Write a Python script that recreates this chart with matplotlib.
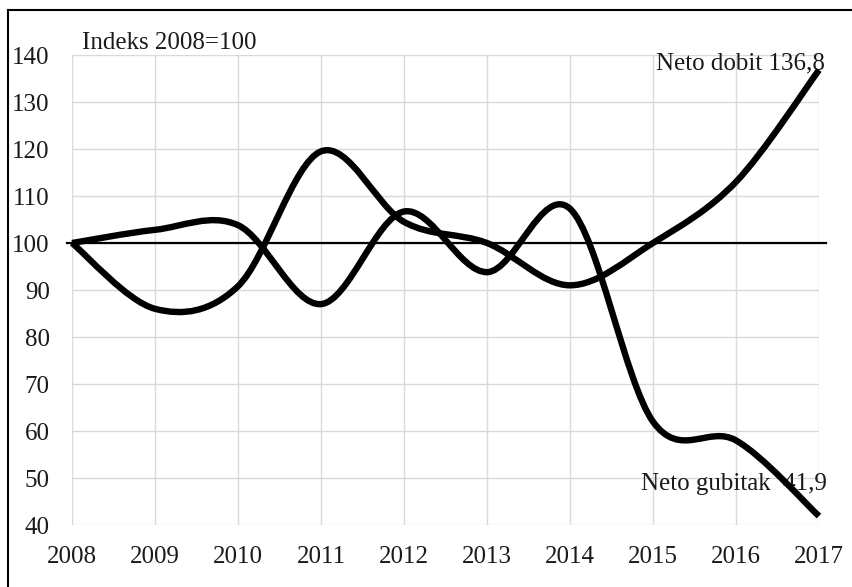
import matplotlib
matplotlib.use("Agg")
import matplotlib.pyplot as plt
import numpy as np
from matplotlib.path import Path
from matplotlib.patches import PathPatch
from matplotlib.lines import Line2D

plt.rcParams['font.family'] = ['Liberation Serif', 'DejaVu Serif']

years = [2008, 2009, 2010, 2011, 2012, 2013, 2014, 2015, 2016, 2017]
neto_dobit = [100, 86.0, 90.8, 119.5, 104.5, 100.0, 91.0, 100.0, 113.0, 136.8]
neto_gubitak = [100, 102.8, 103.8, 87.0, 106.7, 93.8, 107.3, 62.0, 58.0, 41.9]
yticks = [40, 50, 60, 70, 80, 90, 100, 110, 120, 130, 140]


def smooth_path(x, y):
    # excel-like smoothed line: catmull-rom as cubic bezier segments
    x = np.asarray(x, float)
    y = np.asarray(y, float)
    px = np.concatenate([[x[0]], x, [x[-1]]])
    py = np.concatenate([[y[0]], y, [y[-1]]])
    verts = [(x[0], y[0])]
    codes = [Path.MOVETO]
    for i in range(1, len(px) - 2):
        c1 = (px[i] + (px[i + 1] - px[i - 1]) / 6, py[i] + (py[i + 1] - py[i - 1]) / 6)
        c2 = (px[i + 1] - (px[i + 2] - px[i]) / 6, py[i + 1] - (py[i + 2] - py[i]) / 6)
        verts += [c1, c2, (px[i + 1], py[i + 1])]
        codes += [Path.CURVE4] * 3
    return Path(verts, codes)


fig = plt.figure(figsize=(8.53, 5.87), dpi=100)
ax = fig.add_axes([0.0844, 0.1056, 0.8757, 0.8007])

ax.set_xlim(2008, 2017)
ax.set_ylim(40, 140)
ax.set_xticks(years)
ax.set_yticks(yticks)
ax.grid(True, color='#d9d9d9', lw=1.0)
ax.set_axisbelow(True)
for s in ax.spines.values():
    s.set_visible(False)
ax.tick_params(length=0, labelsize=18, colors='#1a1a1a')
ax.tick_params(axis='y', pad=16)
ax.tick_params(axis='x', pad=15)

ax.plot([2007.94, 2017.08], [100, 100], color='black', lw=1.6, clip_on=False, zorder=3)

for series in [neto_dobit, neto_gubitak]:
    ax.add_patch(PathPatch(smooth_path(years, series), fill=False, edgecolor='black',
                           lw=4.6, clip_on=False, zorder=4, capstyle='butt', joinstyle='round'))

ax.text(2008.12, 142.6, 'Indeks 2008=100', fontsize=18, color='#1a1a1a', va='center', ha='left')
ax.text(2017.07, 138.3, 'Neto dobit 136,8', fontsize=18, color='#1a1a1a', va='center', ha='right')
ax.text(2017.09, 48.8, 'Neto gubitak  41,9', fontsize=18, color='#1a1a1a', va='center', ha='right')

# frame around the chart area (left and top visible)
fig.add_artist(Line2D([0.0088, 0.0088], [0.0, 0.983], transform=fig.transFigure, color='black', lw=1.5))
fig.add_artist(Line2D([0.0088, 1.0], [0.983, 0.983], transform=fig.transFigure, color='black', lw=1.5))

fig.savefig('out.png', dpi=100)
